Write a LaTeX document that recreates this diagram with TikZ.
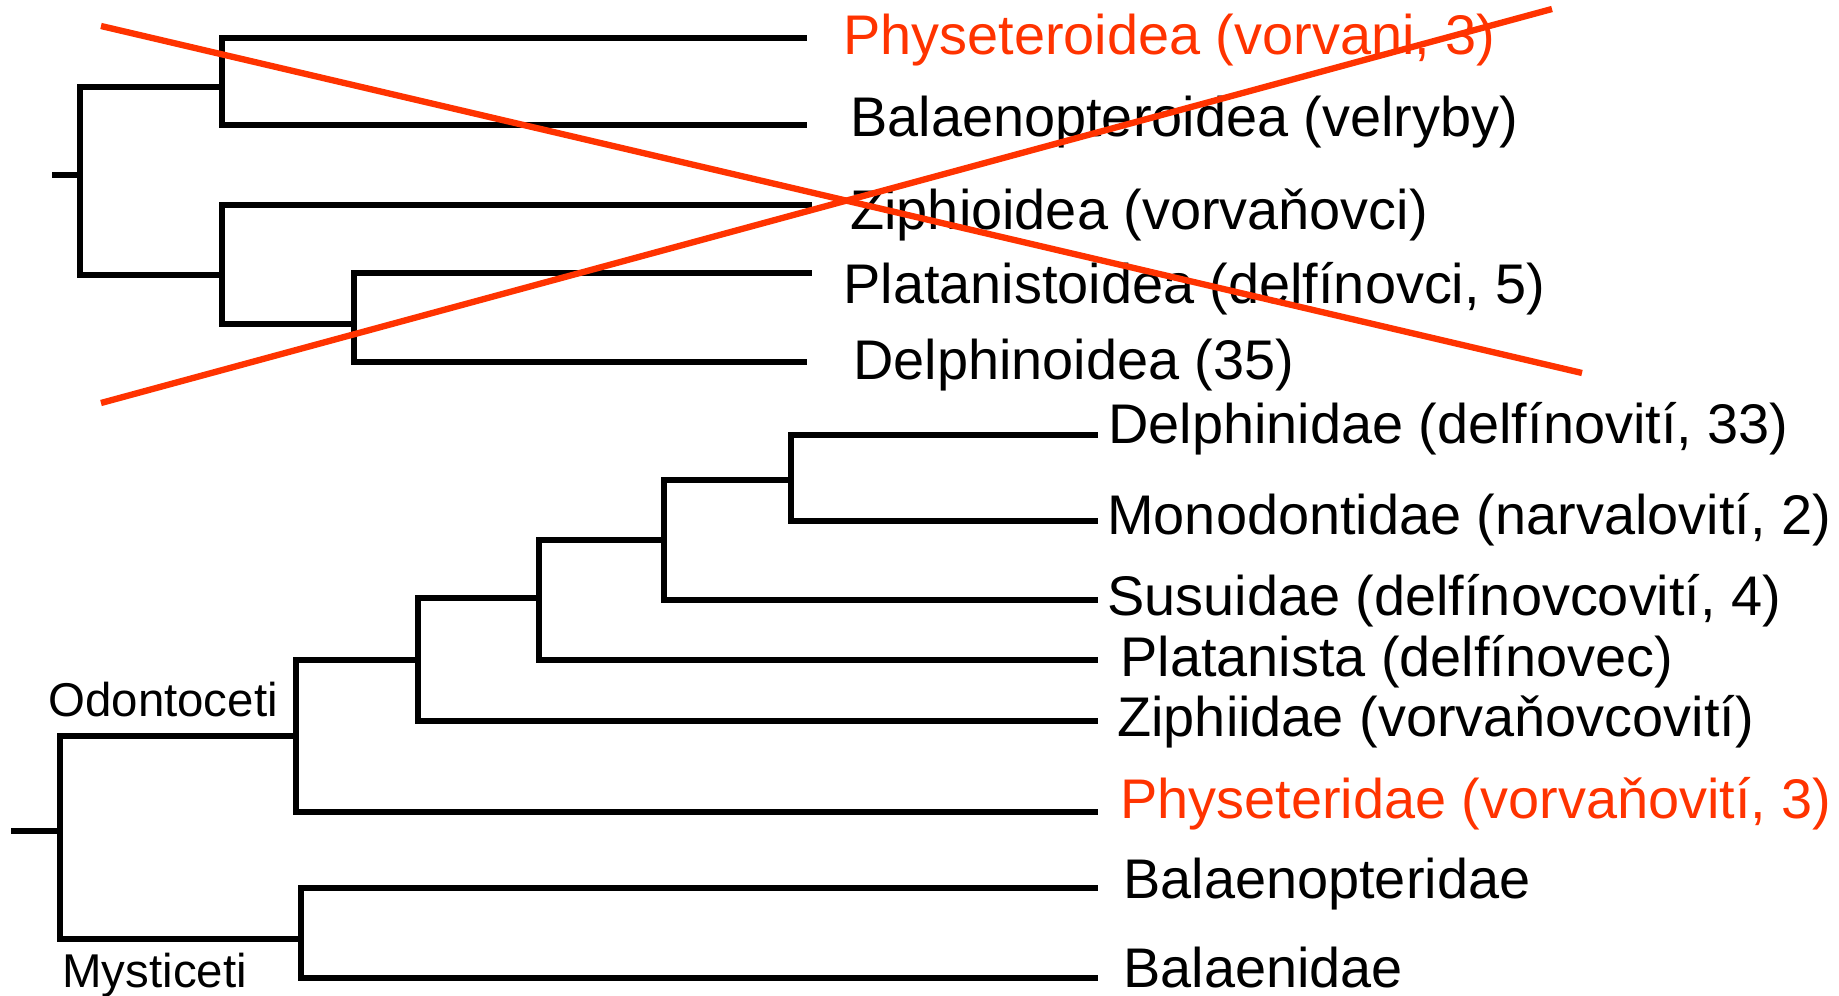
\documentclass[tikz,border=0pt]{standalone}
\usepackage{fontspec}
\setmainfont{Liberation Sans}
\usepackage{tikz}
\usetikzlibrary{positioning, calc}
\definecolor{crossred}{RGB}{255,51,0}

\begin{document}
\begin{tikzpicture}[x=0.02cm, y=-0.02cm,
    branch/.style={line width=2.9pt},
    taxon/.style={anchor=base west, inner sep=0pt, font=\fontsize{31.8}{36}\selectfont},
    clade/.style={anchor=base west, inner sep=0pt, font=\fontsize{27}{30}\selectfont},
    struck/.style={line width=3.6pt, draw=crossred}]
    \useasboundingbox (0,0) rectangle (1839,996);

    % old classification (superfamilies)
    \coordinate (oldstub) at (52,175);
    \coordinate (oldroot) at (80,175);
    \coordinate (oldA) at (222,87);
    \coordinate (oldB) at (222,275);
    \coordinate (oldC) at (354,324);
    \coordinate (tphyoid) at (807,38);
    \coordinate (tbalaoid) at (807,125);
    \coordinate (tziphoid) at (812,205);
    \coordinate (tplatoid) at (812,273);
    \coordinate (tdelphoid) at (807,362);

    \draw[branch] (oldstub) -- (oldroot);
    \draw[branch] (oldroot) |- (oldA);
    \draw[branch] (oldroot) |- (oldB);
    \draw[branch] (oldA) |- (tphyoid);
    \draw[branch] (oldA) |- (tbalaoid);
    \draw[branch] (oldB) |- (tziphoid);
    \draw[branch] (oldB) |- (oldC);
    \draw[branch] (oldC) |- (tplatoid);
    \draw[branch] (oldC) |- (tdelphoid);

    \node[taxon, text=crossred] (physeteroidea) at (843,55) {Physeteroidea (vorvani, 3)};
    \node[taxon] (balaenopteroidea) at (850,137) {Balaenopteroidea (velryby)};
    \node[taxon] (ziphioidea) at (850,230) {Ziphioidea (vorvaňovci)};
    \node[taxon] (platanistoidea) at (843,304) {Platanistoidea (delfínovci, 5)};
    \node[taxon] (delphinoidea) at (853,380) {Delphinoidea (35)};

    % new classification (families)
    \coordinate (newstub) at (11,831);
    \coordinate (newroot) at (60,831);
    \coordinate (odonto) at (296,736);
    \coordinate (mysti) at (301,939);
    \coordinate (newA) at (418,660);
    \coordinate (newB) at (539,598);
    \coordinate (newC) at (664,540);
    \coordinate (newD) at (791,480);
    \coordinate (tdelph) at (1098,435);
    \coordinate (tmono) at (1098,521);
    \coordinate (tsusu) at (1098,600);
    \coordinate (tplat) at (1098,660);
    \coordinate (tziph) at (1098,721);
    \coordinate (tphys) at (1098,812);
    \coordinate (tbalp) at (1098,888);
    \coordinate (tbaln) at (1098,978);

    \draw[branch] (newstub) -- (newroot);
    \draw[branch] (newroot) |- (odonto);
    \draw[branch] (newroot) |- (mysti);
    \draw[branch] (odonto) |- (newA);
    \draw[branch] (odonto) |- (tphys);
    \draw[branch] (newA) |- (newB);
    \draw[branch] (newA) |- (tziph);
    \draw[branch] (newB) |- (newC);
    \draw[branch] (newB) |- (tplat);
    \draw[branch] (newC) |- (newD);
    \draw[branch] (newC) |- (tsusu);
    \draw[branch] (newD) |- (tdelph);
    \draw[branch] (newD) |- (tmono);
    \draw[branch] (mysti) |- (tbalp);
    \draw[branch] (mysti) |- (tbaln);

    \node[taxon] (delphinidae) at (1108,444) {Delphinidae (delfínovití, 33)};
    \node[taxon] (monodontidae) at (1107,535) {Monodontidae (narvalovití, 2)};
    \node[taxon] (susuidae) at (1107,615) {Susuidae (delfínovcovití, 4)};
    \node[taxon] (platanista) at (1120,676) {Platanista (delfínovec)};
    \node[taxon] (ziphiidae) at (1117,736) {Ziphiidae (vorvaňovcovití)};
    \node[taxon, text=crossred] (physeteridae) at (1120,818) {Physeteridae (vorvaňovití, 3)};
    \node[taxon] (balaenopteridae) at (1123,898) {Balaenopteridae};
    \node[taxon] (balaenidae) at (1123,987) {Balaenidae};
    \node[clade] (odontoceti) at (48,716) {Odontoceti};
    \node[clade] (mysticeti) at (62,987) {Mysticeti};

    % crossed out
    \coordinate (xa) at (101,26);
    \coordinate (xb) at (1582,373);
    \coordinate (xc) at (101,403);
    \coordinate (xd) at (1552,9);
    \draw[struck] (xa) -- (xb);
    \draw[struck] (xc) -- (xd);
\end{tikzpicture}
\end{document}
